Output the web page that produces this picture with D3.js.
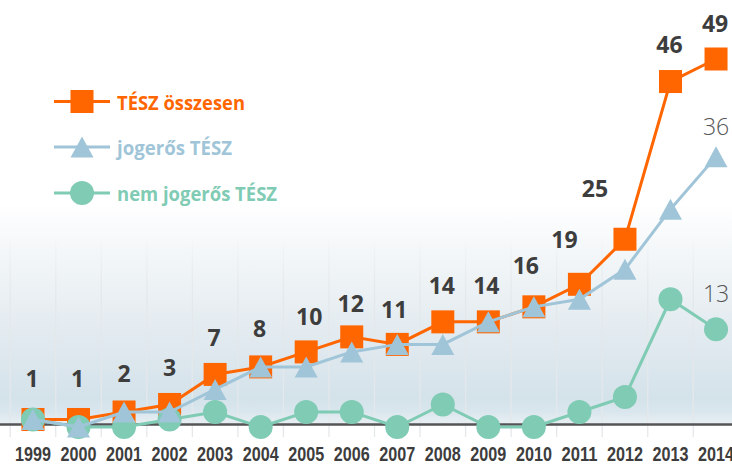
<!DOCTYPE html>
<html>
<head>
<meta charset="utf-8">
<script src="https://cdn.jsdelivr.net/npm/d3@7"></script>
<style>
  html, body { margin: 0; padding: 0; background: #fff; }
  svg { display: block; }
  .year { font-family: "Liberation Sans Narrow", "Liberation Sans", "DejaVu Sans", sans-serif; font-weight: bold; font-size: 20px; fill: #3d3d3d; }
  .value { font-family: "Open Sans", sans-serif; font-weight: bold; font-size: 23px; fill: #3d3d3d; }
  .value-light { font-family: "Open Sans", sans-serif; font-weight: 300; font-size: 23px; fill: #555; }
  .legend text { font-family: "Open Sans", sans-serif; font-weight: bold; font-size: 20px; }
</style>
</head>
<body>
<svg id="chart"></svg>
<script>
'use strict';

var years = [1999, 2000, 2001, 2002, 2003, 2004, 2005, 2006, 2007, 2008, 2009, 2010, 2011, 2012, 2013, 2014];
var total = [1, 1, 2, 3, 7, 8, 10, 12, 11, 14, 14, 16, 19, 25, 46, 49];     // TÉSZ összesen
var final = [1, 0, 2, 2, 5, 8, 8, 10, 11, 11, 14, 16, 17, 21, 29, 36];      // jogerős TÉSZ
var pending = [1, 0, 0, 1, 2, 0, 2, 2, 0, 3, 0, 0, 2, 4, 17, 13];           // nem jogerős TÉSZ
var seriesNames = ["TÉSZ összesen", "jogerős TÉSZ", "nem jogerős TÉSZ"];

// hand placed nudges of the value labels, as in the original [dx, dy]
var labelNudge = [[-1, -4], [-1, -4], [0, -2], [0, 0], [-1, 0], [-1, -2], [3, 1], [-1, 3],
                  [-3, 2], [-1, 0], [-2, 0], [-8, -5], [-15, -8], [-30, -14], [-1, -1], [-1, 1]];

var width = 732, height = 464;
var colors = {total: "#ff6600", final: "#a0c5d8", pending: "#7fcbb4"};

var svg = d3.select("#chart").attr("width", width).attr("height", height);
var defs = svg.append("defs");

// background gradient
var grad = defs.append("linearGradient")
  .attr("id", "bg")
  .attr("gradientUnits", "userSpaceOnUse")
  .attr("x1", 0).attr("y1", 0).attr("x2", 0).attr("y2", 424);
[[0, "#ffffff"], [0.48, "#ffffff"], [0.62, "#f1f5f7"], [0.78, "#e3ebf0"],
 [0.94, "#d4e2ea"], [0.97, "#d9e6ed"], [1, "#e8eff3"]].forEach(function(s) {
  grad.append("stop").attr("offset", s[0]).attr("stop-color", s[1]);
});

var gridGrad = defs.append("linearGradient")
  .attr("id", "gridfade")
  .attr("gradientUnits", "userSpaceOnUse")
  .attr("x1", 0).attr("y1", 235).attr("x2", 0).attr("y2", 300);
gridGrad.append("stop").attr("offset", 0).attr("stop-color", "#e4e8eb").attr("stop-opacity", 0);
gridGrad.append("stop").attr("offset", 1).attr("stop-color", "#e4e8eb").attr("stop-opacity", 1);

svg.append("rect")
  .attr("width", width).attr("height", 424)
  .attr("fill", "url(#bg)");

// scales
var x = d3.scaleBand().domain(years).range([10.2, 738.8]).padding(0);
var y = d3.scaleLinear().domain([0, 49]).range([427, 59]);
function cx(d) { return x(d) + x.bandwidth() / 2; }

// vertical grid at the band edges
svg.append("g")
  .selectAll("line")
  .data(years)
  .enter().append("line")
    .attr("x1", function(d) { return x(d); })
    .attr("x2", function(d) { return x(d); })
    .attr("y1", 235)
    .attr("y2", 437)
    .attr("stroke", "url(#gridfade)")
    .attr("stroke-width", 1.3);

// baseline
svg.append("line")
  .attr("x1", 0).attr("x2", width)
  .attr("y1", 424.5).attr("y2", 424.5)
  .attr("stroke", "#555").attr("stroke-width", 2.5);

// year labels, squeezed to the condensed width of the original
var xAxis = d3.axisBottom(x).tickSize(0).tickPadding(0);
var axisG = svg.append("g")
  .attr("transform", "translate(0,447)")
  .call(xAxis);
axisG.select(".domain").remove();
axisG.selectAll("text")
  .attr("class", "year")
  .attr("dy", "0.71em")
  .attr("fill", null)
  .attr("textLength", 36)
  .attr("lengthAdjust", "spacingAndGlyphs");

var line = d3.line()
  .x(function(d) { return cx(d.year); })
  .y(function(d) { return y(d.value); });

function zip(values) {
  return years.map(function(yr, i) { return {year: yr, value: values[i]}; });
}

function trianglePath(w, h) {
  return "M0," + (-h / 2) + "L" + (w / 2) + "," + (h / 2) + "L" + (-w / 2) + "," + (h / 2) + "Z";
}

function drawSeries(values, color, shape) {
  var g = svg.append("g");
  var pts = zip(values);
  g.append("path")
    .datum(pts)
    .attr("d", line)
    .attr("fill", "none")
    .attr("stroke", color)
    .attr("stroke-width", 3);

  var marks = g.selectAll(".mark")
    .data(pts)
    .enter();

  if (shape === "square") {
    marks.append("rect")
      .attr("x", function(d) { return cx(d.year) - 11.5; })
      .attr("y", function(d) { return y(d.value) - 11.5; })
      .attr("width", 23).attr("height", 23)
      .attr("fill", color);
  } else if (shape === "triangle") {
    marks.append("path")
      .attr("d", trianglePath(23, 21))
      .attr("transform", function(d) { return "translate(" + cx(d.year) + "," + y(d.value) + ")"; })
      .attr("fill", color);
  } else {
    marks.append("circle")
      .attr("cx", function(d) { return cx(d.year); })
      .attr("cy", function(d) { return y(d.value); })
      .attr("r", 12)
      .attr("fill", color);
  }
}

drawSeries(total, colors.total, "square");
drawSeries(pending, colors.pending, "circle");
drawSeries(final, colors.final, "triangle");

// value labels of the total
svg.append("g")
  .selectAll("text")
  .data(zip(total))
  .enter().append("text")
    .attr("class", "value")
    .attr("text-anchor", "middle")
    .attr("x", function(d, i) { return cx(d.year) + labelNudge[i][0]; })
    .attr("y", function(d, i) { return y(d.value) - 28 + labelNudge[i][1]; })
    .text(function(d) { return d.value; });

// last values of the two sub series
var last = years.length - 1;
svg.append("text")
  .attr("class", "value-light")
  .attr("text-anchor", "middle")
  .attr("x", cx(years[last]))
  .attr("y", y(final[last]) - 22)
  .text(final[last]);
svg.append("text")
  .attr("class", "value-light")
  .attr("text-anchor", "middle")
  .attr("x", cx(years[last]))
  .attr("y", y(pending[last]) - 27)
  .text(pending[last]);

// legend
var legendRows = [
  {name: seriesNames[0], color: colors.total, shape: "square", cy: 101.5, len: 128},
  {name: seriesNames[1], color: colors.final, shape: "triangle", cy: 147, len: 115},
  {name: seriesNames[2], color: colors.pending, shape: "circle", cy: 193, len: 160}
];

var legend = svg.append("g").attr("class", "legend");
legendRows.forEach(function(r) {
  var g = legend.append("g").attr("transform", "translate(0," + r.cy + ")");
  g.append("line")
    .attr("x1", 54).attr("x2", 110)
    .attr("stroke", r.color).attr("stroke-width", 3);
  if (r.shape === "square") {
    g.append("rect").attr("x", 70.5).attr("y", -11.5).attr("width", 23).attr("height", 23).attr("fill", r.color);
  } else if (r.shape === "triangle") {
    g.append("path").attr("d", trianglePath(23, 21)).attr("transform", "translate(82,0)").attr("fill", r.color);
  } else {
    g.append("circle").attr("cx", 82).attr("r", 12).attr("fill", r.color);
  }
  g.append("text")
    .attr("x", 117).attr("y", 8)
    .attr("fill", r.color)
    .attr("textLength", r.len)
    .attr("lengthAdjust", "spacingAndGlyphs")
    .text(r.name);
});
</script>
</body>
</html>
